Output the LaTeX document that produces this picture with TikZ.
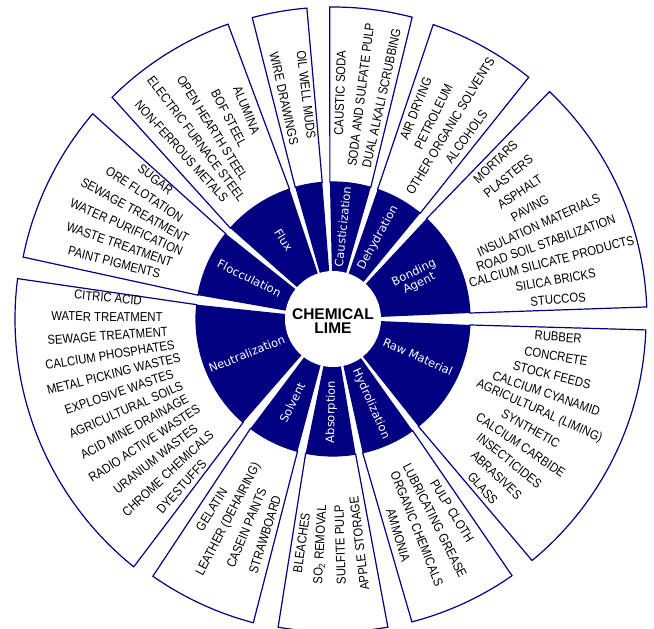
\documentclass[tikz,border=0pt]{standalone}
\usepackage{fontspec}
\setmainfont{Liberation Sans}
\newfontfamily\listfont[FakeStretch=0.87]{Liberation Sans}
\newfontfamily\ringfont{DejaVu Sans}
\definecolor{limeblue}{RGB}{0,0,128}
\tikzset{
  sector/.style={draw=limeblue, line width=1.2pt, fill=white, line join=miter},
  ringpart/.style={fill=limeblue},
  listitem/.style={font=\listfont\fontsize{13}{13}\selectfont, inner sep=0pt},
  ringlabel/.style={font=\ringfont\fontsize{11.5}{12}\selectfont, text=white, inner sep=0pt, align=center},
  centre/.style={font=\bfseries\fontsize{15.5}{13.5}\selectfont, inner sep=0pt, align=center}
}
% #1 #2 ring angles, #3 #4 outer angles, #5 outer radius
\newcommand\limesector[5]{%
  \draw[sector] (#1:137) -- (#3:#5) arc[start angle=#3, end angle=#4, radius=#5]
    -- (#2:137) arc[start angle=#2, end angle=#1, radius=137] -- cycle;
  \fill[ringpart] (0,0) -- (#1:137) arc[start angle=#1, end angle=#2, radius=137] -- cycle;
}
% #1 name, #2 first angle, #3 step, #4 turn, #5 items
\newcommand\itemfan[5]{%
  \foreach \t [count=\i] in {#5} {
    \pgfmathsetmacro\ang{#2+(\i-1)*(#3)}
    \node[listitem, rotate=\ang+#4] (#1-\i) at (\ang:226) {\t};
  }
}
\begin{document}
\begin{tikzpicture}[x=1pt,y=1pt]
  \useasboundingbox (-333,-310) rectangle (321,319);
  \limesector{2.5}{47}{2.2}{46.4}{314}
  \limesector{50.5}{71}{51}{71.2}{311}
  \limesector{74}{91.3}{75.3}{90.6}{312}
  \limesector{94.5}{106}{94.8}{105}{312}
  \limesector{108.5}{138.5}{109.6}{134.9}{313}
  \limesector{141.5}{170}{139.5}{168.7}{316}
  \limesector{174}{229}{172.7}{231.2}{318}
  \limesector{233}{255}{235}{255.3}{314}
  \limesector{258.5}{279.5}{259.9}{280.1}{313}
  \limesector{282.5}{305.5}{284.6}{304.9}{313}
  \limesector{308.5}{357.5}{309.5}{358}{313}
  \fill[white] (0,0) circle[radius=48];
  \node[centre] (lime) at (0,-2) {CHEMICAL\\LIME};

  \node[ringlabel, rotate=26] (bond) at (26:93) {Bonding\\Agent};
  \node[ringlabel, rotate=61] (dehyd) at (61:93) {Dehydration};
  \node[ringlabel, rotate=84] (caust) at (84:93) {Causticization};
  \node[ringlabel, rotate=-58] (flux) at (122:93) {Flux};
  \node[ringlabel, rotate=-26] (floc) at (154:93) {Flocculation};
  \node[ringlabel, rotate=22] (neut) at (202:93) {Neutralization};
  \node[ringlabel, rotate=64] (solv) at (244:93) {Solvent};
  \node[ringlabel, rotate=89] (absorb) at (269:93) {Absorption};
  \node[ringlabel, rotate=-66] (hydro) at (294:93) {Hydrolization};
  \node[ringlabel, rotate=-24] (raw) at (336:93) {Raw Material};

  \itemfan{bond}{44}{-4.875}{0}{MORTARS, PLASTERS, ASPHALT, PAVING, INSULATION MATERIALS,
    ROAD SOIL STABILIZATION, CALCIUM SILICATE PRODUCTS, SILICA BRICKS, STUCCOS}
  \itemfan{raw}{-4.6}{-4.88}{0}{RUBBER, CONCRETE, STOCK FEEDS, CALCIUM CYANAMID,
    AGRICULTURAL (LIMING), SYNTHETIC, CALCIUM CARBIDE, INSECTICIDES, ABRASIVES, GLASS}
  \itemfan{hydro}{-58.2}{-5}{0}{PULP CLOTH, LUBRICATING GREASE, ORGANIC CHEMICALS, AMMONIA}
  \itemfan{absorb}{262}{4.9}{180}{BLEACHES, SO\textsubscript{2} REMOVAL, SULFITE PULP, APPLE STORAGE}
  \itemfan{solv}{237.5}{5}{180}{GELATIN, LEATHER (DEHAIRING), CASEIN PAINTS, STRAWBOARD}
  \itemfan{neut}{174.6}{4.85}{180}{CITRIC ACID, WATER TREATMENT, SEWAGE TREATMENT,
    CALCIUM PHOSPHATES, METAL PICKING WASTES, EXPLOSIVE WASTES, AGRICULTURAL SOILS,
    ACID MINE DRAINAGE, RADIO ACTIVE WASTES, URANIUM WASTES, CHROME CHEMICALS, DYESTUFFS}
  \itemfan{floc}{141.8}{4.74}{180}{SUGAR, ORE FLOTATION, SEWAGE TREATMENT,
    WATER PURIFICATION, WASTE TREATMENT, PAINT PIGMENTS}
  \itemfan{flux}{112.5}{4.9}{180}{ALUMINA, BOF STEEL, OPEN HEARTH STEEL,
    ELECTRIC FURNACE STEEL, NON-FERROUS METALS}
  \itemfan{mud}{96.8}{5.7}{180}{OIL WELL MUDS, WIRE DRAWINGS}
  \itemfan{caust}{88.2}{-5.3}{0}{CAUSTIC SODA, SODA AND SULFATE PULP, DUAL ALKALI SCRUBBING}
  \itemfan{dehyd}{68.5}{-4.9}{0}{AIR DRYING, PETROLEUM, OTHER ORGANIC SOLVENTS, ALCOHOLS}
\end{tikzpicture}
\end{document}
